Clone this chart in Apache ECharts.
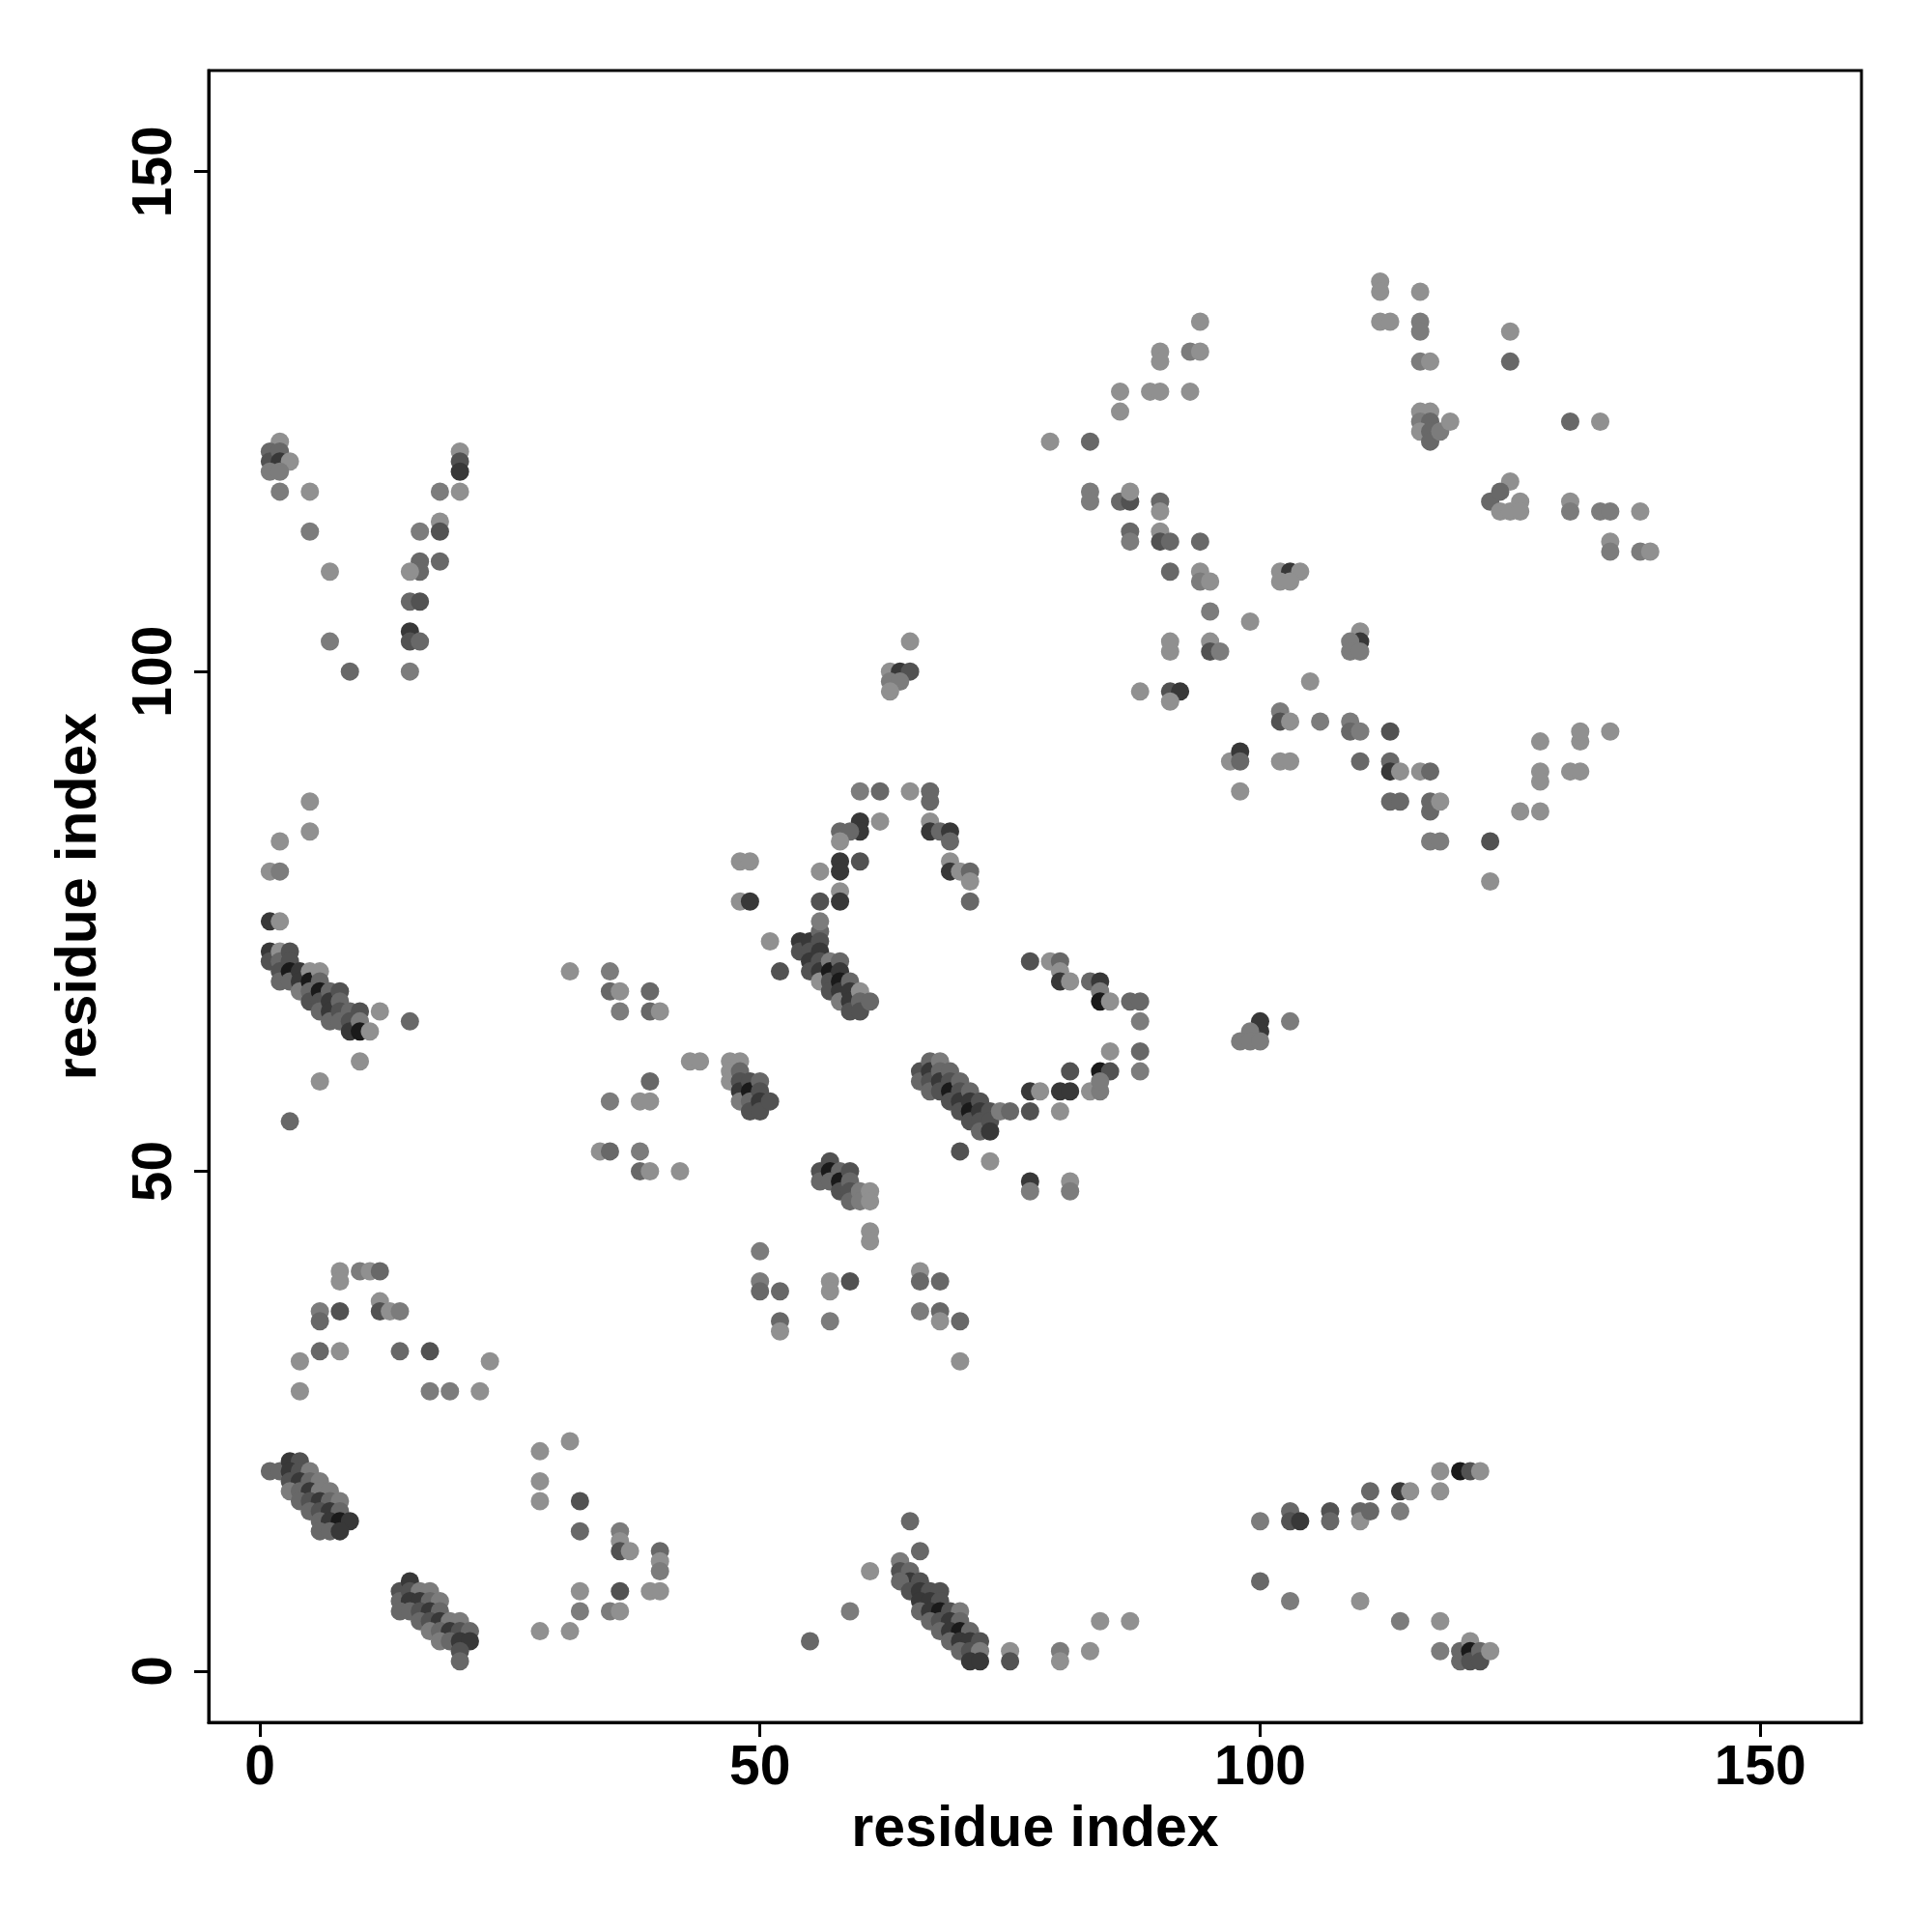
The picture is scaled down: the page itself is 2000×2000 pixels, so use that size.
<!DOCTYPE html>
<html><head><meta charset="utf-8">
<script src="https://cdn.jsdelivr.net/npm/echarts@6/dist/echarts.min.js"></script>
<style>html,body{margin:0;padding:0;background:#fff}#c{width:2000px;height:2000px}</style>
</head><body><div id="c"></div>
<script>
// [residue i, residue j, shade level 1 (light) .. 6 (dark)]
const upperLeft = [[2,123,1],[1,122,3],[1,121,4],[2,122,3],[2,121,5],[3,121,1],[1,120,2],[2,120,2],[2,118,2],[5,118,1],[5,114,2],[7,110,1],[7,103,2],[9,100,3],
[20,122,1],[20,121,4],[20,120,5],[18,118,2],[20,118,1],[18,115,1],[18,114,4],[16,114,2],[16,111,3],[16,110,3],[15,110,1],[18,111,3],[15,107,3],[16,107,4],[15,104,5],[15,103,4],[16,103,3],[15,100,2]];
const leftMid = [[5,87,1],[5,84,1],[2,83,1],[1,80,1],[2,80,2],[1,75,5],[2,75,1],
[1,72,5],[1,71,4],[2,72,1],[2,71,3],[2,70,4],[2,69,3],[3,72,4],[3,71,4],[3,70,6],[3,69,3],[4,70,5],[4,69,5],[4,68,2],[5,70,1],[5,69,6],[5,68,3],[5,67,4],[6,70,1],[6,69,3],[6,68,6],[6,67,4],[6,66,3],[7,68,3],[7,67,5],[7,66,5],[7,65,3],[8,68,4],[8,67,3],[8,66,4],[8,65,3],[9,66,3],[9,65,4],[9,64,5],[10,66,4],[10,65,2],[10,64,6],[11,64,1],
[12,66,1],[15,65,3],[10,61,1],[6,59,1],[3,55,3]];
const leftArch = [[8,40,1],[8,39,1],[10,40,2],[11,40,1],[12,40,3],[6,36,2],[6,35,3],[8,36,4],[12,37,1],[12,36,4],[13,36,1],[14,36,2],[4,31,1],[6,32,3],[8,32,1],[14,32,3],[17,32,4],[23,31,1],[4,28,1],[17,28,2],[19,28,2],[22,28,1]];
const bandLowLeft = [[1,20,3],[2,20,3],[3,21,5],[4,21,4],[3,20,5],[4,20,4],[5,20,2],[3,19,4],[4,19,5],[5,19,3],[6,19,2],[3,18,2],[4,18,3],[5,18,5],[6,18,2],[7,18,2],[4,17,3],[5,17,4],[6,17,5],[7,17,3],[8,17,2],[5,16,3],[6,16,4],[7,16,5],[8,16,3],[6,15,3],[7,15,5],[8,15,6],[9,15,5],[6,14,3],[7,14,3],[8,14,5]];
const bandLow2 = [[14,8,4],[15,9,5],[14,7,3],[15,8,4],[16,8,2],[17,8,2],[15,7,5],[16,7,5],[17,7,3],[18,7,2],[14,6,3],[15,6,3],[16,6,4],[17,6,5],[18,6,3],[16,5,3],[17,5,4],[18,5,5],[19,5,2],[20,5,2],[17,4,2],[18,4,3],[19,4,5],[20,4,4],[21,4,3],[18,3,2],[19,3,3],[20,3,5],[21,3,5],[20,2,4],[20,1,3]];
const lowMid = [[28,22,1],[31,23,1],[28,19,1],[28,17,1],[32,17,4],[32,14,3],[36,14,2],[36,13,1],[36,12,4],[37,12,1],[40,12,3],[40,11,1],[40,10,2],[32,8,1],[36,8,4],[39,8,1],[40,8,1],[32,6,2],[35,6,2],[36,6,1],[28,4,1],[31,4,1]];
const midLeft = [[31,70,1],[35,70,2],[35,68,3],[36,68,1],[39,68,3],[36,66,2],[39,66,3],[40,66,1],[43,61,1],[44,61,1],[39,59,3],[35,57,2],[38,57,1],[39,57,1],[34,52,1],[35,52,3],[38,52,2],[38,50,3],[39,50,1],[42,50,1]];
const bandB = [[47,61,1],[47,60,1],[47,59,1],[48,61,1],[48,60,3],[48,59,4],[48,58,5],[48,57,2],[49,59,4],[49,58,6],[49,57,3],[49,56,4],[50,59,3],[50,58,4],[50,57,5],[50,56,4],[51,57,4]];
const bandC = [[56,50,4],[56,49,3],[57,51,4],[57,50,6],[57,49,3],[58,50,3],[58,49,6],[58,48,4],[59,50,4],[59,49,3],[59,48,4],[59,47,3],[60,48,2],[60,47,2],[61,48,1],[61,47,1]];
const lowCenter = [[61,44,1],[61,43,1],[50,42,2],[50,39,2],[50,38,3],[52,38,3],[52,35,3],[52,34,1],[57,39,1],[57,38,1],[59,39,4],[57,35,2],[66,40,1],[66,39,3],[68,39,3],[66,36,2],[68,36,3],[68,35,1],[70,35,3],[70,31,1]];
const bandA = [[54,73,5],[54,72,4],[55,73,5],[55,72,4],[55,71,5],[55,70,4],[56,74,3],[56,73,4],[56,72,5],[56,71,4],[56,70,5],[56,69,1],[57,71,2],[57,70,6],[57,69,4],[57,68,4],[58,71,3],[58,70,5],[58,69,6],[58,68,5],[58,67,2],[59,69,3],[59,68,5],[59,67,5],[59,66,4],[60,68,1],[60,67,3],[60,66,4],[61,67,3]];
const arc = [[60,88,2],[62,88,3],[65,88,1],[67,88,3],[67,87,3],[60,85,5],[60,84,5],[62,85,1],[58,84,3],[59,84,3],[58,83,1],[58,81,5],[58,80,5],[60,81,4],[56,80,1],[58,78,1],[58,77,5],[56,77,4],[56,75,2],[67,85,1],[67,84,5],[68,84,3],[69,84,5],[69,83,3],[69,81,1],[69,80,5],[70,80,1],[71,80,3],[71,79,1],[71,77,3],[48,81,1],[49,81,1],[48,77,1],[49,77,5],[51,73,1],[52,70,4]];
const bandD = [[66,60,4],[66,59,3],[67,61,3],[67,60,5],[67,59,4],[67,58,3],[68,61,2],[68,60,3],[68,59,5],[68,58,4],[69,60,3],[69,59,4],[69,58,6],[69,57,4],[70,59,3],[70,58,4],[70,57,5],[70,56,4],[71,58,3],[71,57,5],[71,56,6],[71,55,4],[72,57,4],[72,56,5],[72,55,4],[72,54,3],[73,56,4],[73,55,4],[73,54,5],[74,56,2],[75,56,3],[70,52,4],[73,51,1]];
const midRight = [[77,71,4],[79,71,1],[80,71,3],[80,70,1],[80,69,5],[81,69,1],[83,69,3],[84,69,5],[84,68,2],[84,67,6],[85,67,1],[87,67,3],[88,67,3],[88,65,2],[85,62,1],[88,62,3],[88,60,2],[81,60,4],[84,60,6],[85,60,4],[77,58,5],[78,58,1],[80,58,5],[81,58,5],[83,58,1],[84,58,2],[84,59,2],[77,56,4],[80,56,1],[77,49,5],[77,48,2],[81,49,1],[81,48,2],
[100,65,5],[100,64,5],[99,64,2],[98,63,2],[99,63,2],[100,63,2],[103,65,2]];
const topMid = [[65,103,1],[63,100,1],[64,100,5],[65,100,4],[63,99,2],[64,99,2],[63,98,1]];
const bandLow3 = [[64,11,2],[64,10,4],[65,10,3],[65,9,5],[66,9,4],[64,9,3],[65,8,4],[66,8,5],[67,8,4],[68,8,4],[66,7,5],[67,7,5],[68,7,4],[66,6,3],[67,6,5],[68,6,6],[69,6,4],[70,6,2],[67,5,3],[68,5,4],[69,5,5],[70,5,3],[68,4,3],[69,4,5],[70,4,6],[71,4,3],[69,3,3],[70,3,5],[71,3,5],[72,3,4],[70,2,3],[71,2,4],[72,2,2],[71,1,5],[72,1,5],[66,12,3],[65,15,3],[61,10,1],[59,6,2],[55,3,3],
[75,2,1],[75,1,4],[80,2,2],[80,1,1],[83,2,1],[84,5,1],[87,5,1]];
const lowRight = [[100,15,2],[103,16,3],[103,15,4],[104,15,5],[100,9,3],[103,7,2],[107,16,4],[107,15,3],[110,16,3],[110,15,1],[111,16,3],[111,18,3],[114,18,5],[115,18,1],[114,16,2],[118,20,1],[120,20,6],[121,20,4],[122,20,1],[118,18,1],[110,7,1],[114,5,2],[118,5,1],[118,2,2],[120,2,3],[120,1,3],[121,3,1],[121,2,6],[121,1,4],[122,2,3],[122,1,4],[123,2,1]];
const upperMid = [[94,135,1],[90,132,1],[90,131,1],[93,132,2],[94,132,1],[86,128,1],[89,128,1],[90,128,1],[93,128,1],[86,126,1],[79,123,1],[83,123,3],[83,118,2],[83,117,2],[86,117,3],[87,117,4],[87,118,1],[90,117,3],[90,116,1],[87,114,3],[87,113,2],[90,114,1],[90,113,4],[91,113,3],[94,113,3],[91,110,3],[94,110,1],[94,109,2],[95,109,1],[102,110,1],[103,110,5],[104,110,1],[102,109,1],[103,109,1],[95,106,2],[99,105,1],[91,103,1],[91,102,1],[95,103,1],[95,102,4],[96,102,2],[88,98,1],[91,98,4],[92,98,5],[91,97,1],[102,96,2],[102,95,4],[103,95,1],[105,99,1],
[97,91,1],[98,92,5],[98,91,3],[98,88,1],[102,91,1],[103,91,1]];
const upperRight = [[112,139,1],[112,138,1],[116,138,1],[112,135,1],[113,135,1],[116,135,2],[116,134,2],[116,131,2],[117,131,1],[125,134,1],[125,131,3],[116,126,1],[117,126,1],[116,125,2],[117,125,3],[116,124,1],[117,124,3],[117,123,3],[118,124,2],[119,125,1],[131,125,3],[134,125,1],[125,119,1],[123,117,3],[124,118,3],[124,116,1],[125,116,1],[126,117,1],[126,116,1],[131,117,1],[131,116,2],[134,116,2],[135,116,2],[138,116,1],[135,113,1],[135,112,2],[138,112,2],[139,112,1]];
const rightMid = [[110,104,1],[110,103,5],[109,103,2],[109,102,2],[110,102,2],[106,95,2],[109,95,2],[109,94,3],[110,94,2],[113,94,4],[110,91,3],[113,91,3],[113,90,5],[114,90,1],[116,90,1],[117,90,3],[113,87,3],[114,87,3],[117,87,3],[117,86,3],[118,87,1],[117,83,2],[118,83,2],[123,83,4],[123,79,1],[126,86,1],[128,86,1],[128,90,1],[128,89,1],[128,93,1],[131,90,1],[132,90,1],[132,93,1],[132,94,1],[135,94,1]];
const tickValues = [0, 50, 100, 150];

const groups = [upperLeft,leftMid,leftArch,bandLowLeft,bandLow2,lowMid,midLeft,bandB,bandC,lowCenter,bandA,arc,bandD,midRight,topMid,bandLow3,lowRight,upperMid,upperRight,rightMid];
const shades = ['#909090','#7c7c7c','#686868','#525252','#383838','#1a1a1a'];
const data = [];
groups.forEach(g => g.forEach(p => data.push({value:[p[0],p[1]], itemStyle:{color:shades[p[2]-1], opacity:1}})));

const font = 'Liberation Sans, Arial, sans-serif';
function axis(isY){
  return {
    type:'value', min:-5.12, max:160.12,
    splitLine:{show:false},
    axisLine:{show:true, onZero:false, lineStyle:{color:'#000', width:3}},
    axisTick:{show:true, customValues:tickValues, length:15, lineStyle:{color:'#000', width:3}},
    axisLabel:{customValues:tickValues, fontSize:57, fontWeight:'bold', color:'#000', fontFamily:font, margin: isY ? 26 : 20, rotate: isY ? 90 : 0},
    name:'residue index', nameLocation:'middle', nameGap: isY ? 104 : 78,
    nameTextStyle:{fontSize:59, fontWeight:'bold', color:'#000', fontFamily:font}
  };
}
const chart = echarts.init(document.getElementById('c'), null, {renderer:'canvas'});
chart.setOption({
  animation:false,
  backgroundColor:'#fff',
  grid:{left:216, top:73, width:1711, height:1710, show:true, borderColor:'#000', borderWidth:3, backgroundColor:'transparent'},
  xAxis: axis(false),
  yAxis: axis(true),
  series:[{type:'scatter', symbol:'circle', symbolSize:19, itemStyle:{opacity:1}, data:data, large:false}]
});
</script></body></html>
